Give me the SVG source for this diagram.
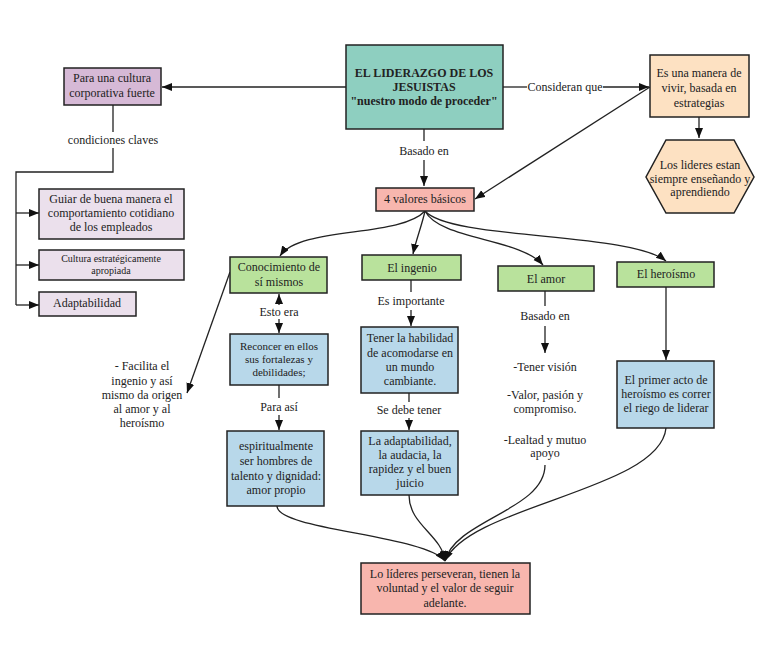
<svg xmlns="http://www.w3.org/2000/svg" width="768" height="660" viewBox="0 0 768 660">
<defs>
<marker id="ah" markerUnits="userSpaceOnUse" markerWidth="12" markerHeight="10" refX="10" refY="4" orient="auto">
<path d="M0,0 L10,4 L0,8 z" fill="#111"/>
</marker>
<style>
text{font-family:"Liberation Serif","Times New Roman",serif;font-size:12px;fill:#222;text-anchor:middle}
.b{font-weight:bold}
.s{font-size:10px}
.box{stroke:#222;stroke-width:1.5}
.c{fill:none;stroke:#222;stroke-width:1.3}
.a{marker-end:url(#ah)}
.teal{fill:#8ecfc0}.pur{fill:#d6b9d6}.lav{fill:#ebe0ec}.pch{fill:#fde1c2}.sal{fill:#f8b6ae}.grn{fill:#b9e29c}.blu{fill:#b8d8ea}
</style>
</defs>
<rect width="768" height="660" fill="#fff"/>
<g id="connectors">
<path class="c a" d="M346,87 H162"/>
<path class="c" d="M113,105 V132 M113,148 V172 H16 V305"/>
<path class="c a" d="M16,213 H39"/>
<path class="c a" d="M16,265 H39"/>
<path class="c a" d="M16,305 H39"/>
<path class="c" d="M503,87 H527"/>
<path class="c a" d="M603,87 H649"/>
<path class="c a" d="M650,87 L475,199"/>
<path class="c a" d="M699,117 V138"/>
<path class="c" d="M424,129 V141"/>
<path class="c a" d="M424,160 V186"/>
<path class="c a" d="M425,211 C400,238 300,226 280,256"/>
<path class="c a" d="M425,211 C422,225 416,240 413,254"/>
<path class="c a" d="M425,211 C440,240 520,238 543,265"/>
<path class="c a" d="M425,211 C450,240 630,232 666,261"/>
<path class="c a" d="M230,272 L187,393"/>
<path class="c a" d="M279,305 V294"/>
<path class="c a" d="M279,319 V333"/>
<path class="c" d="M279,385 V398"/>
<path class="c a" d="M279,415 V430"/>
<path class="c" d="M411,280 V292"/>
<path class="c a" d="M411,310 V326"/>
<path class="c" d="M409,393 V402"/>
<path class="c a" d="M409,418 V430"/>
<path class="c" d="M545,291 V306"/>
<path class="c a" d="M545,326 V353"/>
<path class="c a" d="M666,287 V360"/>
<path class="c a" d="M277,506 C277,530 425,535 445,561"/>
<path class="c a" d="M409,495 C409,525 442,535 445,561"/>
<path class="c a" d="M545,465 C545,510 455,520 445,561"/>
<path class="c a" d="M666,428 C660,490 470,505 445,561"/>
</g>
<g id="edge-labels">
<text x="113" y="144">condiciones claves</text>
<text x="565" y="91">Consideran que</text>
<text x="424" y="155">Basado en</text>
<text x="279" y="316">Esto era</text>
<text x="279" y="411">Para así</text>
<text x="411" y="305">Es importante</text>
<text x="409" y="414">Se debe tener</text>
<text x="545" y="320">Basado en</text>
</g>
<g id="main"><rect class="box teal" x="346" y="45" width="157" height="84"/>
<text class="b" x="424" y="77">EL LIDERAZGO DE LOS</text>
<text class="b" x="424" y="91">JESUISTAS</text>
<text class="b" x="424" y="105">"nuestro modo de proceder"</text></g>
<g id="cultura"><rect class="box pur" x="64" y="68" width="97" height="37"/>
<text x="112" y="82">Para una cultura</text><text x="112" y="97">corporativa fuerte</text></g>
<g id="guiar"><rect class="box lav" x="39" y="189" width="145" height="50"/>
<text x="111" y="203">Guiar de buena manera el</text><text x="111" y="217">comportamiento cotidiano</text><text x="111" y="231">de los empleados</text></g>
<g id="estrategica"><rect class="box lav" x="39" y="250" width="145" height="30"/>
<text class="s" x="111" y="262">Cultura estratégicamente</text><text class="s" x="111" y="274">apropiada</text></g>
<g id="adaptabilidad"><rect class="box lav" x="39" y="292" width="97" height="24"/>
<text x="87" y="307">Adaptabilidad</text></g>
<g id="manera"><rect class="box pch" x="650" y="55" width="99" height="62"/>
<text x="699" y="77">Es una manera de</text><text x="699" y="92">vivir, basada en</text><text x="699" y="107">estrategias</text></g>
<g id="lideres"><polygon class="box pch" points="666,140 734,140 754,177 734,213 666,213 646,177"/>
<text x="700" y="169">Los lideres estan</text><text x="700" y="183">siempre enseñando y</text><text x="700" y="196">aprendiendo</text></g>
<g id="valores"><rect class="box sal" x="376" y="188" width="98" height="23"/>
<text x="425" y="203">4 valores básicos</text></g>
<g id="conocimiento"><rect class="box grn" x="230" y="257" width="97" height="36"/>
<text x="279" y="271">Conocimiento de</text><text x="279" y="286">sí mismos</text></g>
<g id="ingenio"><rect class="box grn" x="362" y="255" width="99" height="25"/>
<text x="412" y="272">El ingenio</text></g>
<g id="amor"><rect class="box grn" x="498" y="266" width="96" height="25"/>
<text x="546" y="283">El amor</text></g>
<g id="heroismo"><rect class="box grn" x="617" y="262" width="97" height="25"/>
<text x="666" y="278">El heroísmo</text></g>
<g id="facilita">
<text x="142" y="370">- Facilita el</text><text x="142" y="385">ingenio y así</text><text x="142" y="399">mismo da origen</text><text x="142" y="413">al amor y al</text><text x="142" y="427">heroísmo</text></g>
<g id="reconcer"><rect class="box blu" x="230" y="334" width="98" height="51"/>
<text class="s" x="279" y="350" style="font-size:11px">Reconcer en ellos</text><text x="279" y="363" style="font-size:11px">sus fortalezas y</text><text x="279" y="376" style="font-size:11px">debilidades;</text></g>
<g id="espiritual"><rect class="box blu" x="227" y="431" width="97" height="75"/>
<text x="276" y="450">espiritualmente</text><text x="276" y="465">ser hombres de</text><text x="276" y="480">talento y dignidad:</text><text x="276" y="494">amor propio</text></g>
<g id="tener"><rect class="box blu" x="361" y="327" width="97" height="66"/>
<text x="410" y="342">Tener la habilidad</text><text x="410" y="357">de acomodarse en</text><text x="410" y="371">un mundo</text><text x="410" y="385">cambiante.</text></g>
<g id="adaptab"><rect class="box blu" x="361" y="431" width="97" height="64"/>
<text x="410" y="445">La adaptabilidad,</text><text x="410" y="459">la audacia, la</text><text x="410" y="473">rapidez y el buen</text><text x="410" y="487">juicio</text></g>
<g id="amor-items">
<text x="545" y="371">-Tener visión</text><text x="545" y="399">-Valor, pasión y</text><text x="545" y="413">compromiso.</text><text x="545" y="444">-Lealtad y mutuo</text><text x="545" y="457">apoyo</text></g>
<g id="primer"><rect class="box blu" x="617" y="361" width="97" height="67"/>
<text x="666" y="384">El primer acto de</text><text x="666" y="398">heroísmo es correr</text><text x="666" y="412">el riego de liderar</text></g>
<g id="perseveran"><rect class="box sal" x="361" y="563" width="169" height="51"/>
<text x="445" y="578">Lo líderes perseveran, tienen la</text><text x="445" y="592">voluntad y el valor de seguir</text><text x="445" y="607">adelante.</text></g>
</svg>
